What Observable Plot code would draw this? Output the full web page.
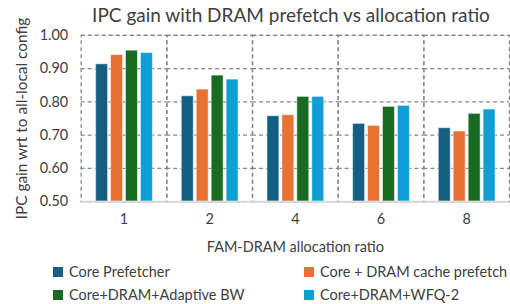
<!DOCTYPE html>
<html><head><meta charset="utf-8">
<script src="https://cdn.jsdelivr.net/npm/d3@7"></script>
<script src="https://cdn.jsdelivr.net/npm/@observablehq/plot@0.6"></script>
<style>
body{margin:0;background:#fff;font-family:Lato,"Open Sans",sans-serif;color:#404040;}
#wrap{position:relative;width:510px;height:304px;overflow:hidden;background:#fff;}
#title{position:absolute;z-index:2;top:3px;left:291px;transform:translateX(-50%);white-space:nowrap;font-size:19px;color:#404040;}
#chart{position:absolute;top:0;left:0;z-index:1;}
#chart [aria-label="y-axis label"] text{font-size:15.5px;}
.leg{position:absolute;z-index:2;font-size:14.5px;white-space:nowrap;display:flex;align-items:center;}
.sw{width:10px;height:10px;margin-right:6px;display:inline-block;}
</style></head>
<body><div id="wrap"><div id="chart"></div><div id="title">IPC gain with DRAM prefetch vs allocation ratio</div></div>
<script>
const ratios = ["1", "2", "4", "6", "8"];
const series = ["Core Prefetcher", "Core + DRAM cache prefetch", "Core+DRAM+Adaptive BW", "Core+DRAM+WFQ-2"];
const corePrefetcher = [0.913, 0.817, 0.757, 0.734, 0.721];
const dramCachePrefetch = [0.941, 0.837, 0.760, 0.728, 0.711];
const adaptiveBW = [0.954, 0.879, 0.815, 0.785, 0.764];
const wfq2 = [0.947, 0.867, 0.815, 0.788, 0.777];
const yTicks = [0.5, 0.6, 0.7, 0.8, 0.9, 1.0];
const colors = ["#156082", "#E97132", "#196B24", "#0F9ED5"];

const valuesBySeries = [corePrefetcher, dramCachePrefetch, adaptiveBW, wfq2];
const data = [];
ratios.forEach((r, i) => series.forEach((s, j) => data.push({ratio: r, series: s, value: valuesBySeries[j][i]})));

const chart = Plot.plot({
  width: 512, height: 260,
  marginLeft: 79, marginRight: 0, marginTop: 35, marginBottom: 58,
  style: {fontFamily: "Lato, 'Open Sans', sans-serif", fontSize: "14.5px", color: "#404040", background: "transparent"},
  fx: {domain: ratios, padding: 0, label: "FAM-DRAM allocation ratio", labelAnchor: "center", labelArrow: "none", labelOffset: 50, tickSize: 0, tickPadding: 12},
  x: {domain: series, paddingInner: 0.2, paddingOuter: 0.85, axis: null},
  y: {domain: [0.5, 1.0], ticks: yTicks, tickFormat: ".2f", tickSize: 0, tickPadding: 13, label: "IPC gain wrt to all-local config", labelAnchor: "center", labelArrow: "none", labelOffset: 65},
  color: {domain: series, range: colors},
  marks: [
    Plot.ruleY(yTicks, {stroke: "#888", strokeWidth: 1.3, strokeDasharray: "4,3"}),
    Plot.frame({stroke: "#888", strokeWidth: 1.3, strokeDasharray: "4,3"}),
    Plot.barY(data, {fx: "ratio", x: "series", y1: 0.5, y2: "value", fill: "series", stroke: "white", strokeOpacity: 0.5, strokeWidth: 1}),
    Plot.ruleY([0.5], {stroke: "#d9d9d9", strokeWidth: 2})
  ]
});
document.getElementById("chart").appendChild(chart);

const wrap = document.getElementById("wrap");
const pos = [[53, 263], [304, 263], [53, 286], [304, 286]];
series.forEach((s, j) => {
  const d = document.createElement("div");
  d.className = "leg";
  d.style.left = pos[j][0] + "px";
  d.style.top = pos[j][1] + "px";
  d.innerHTML = `<span class="sw" style="background:${colors[j]}"></span><span>${s}</span>`;
  wrap.appendChild(d);
});
</script></body></html>
